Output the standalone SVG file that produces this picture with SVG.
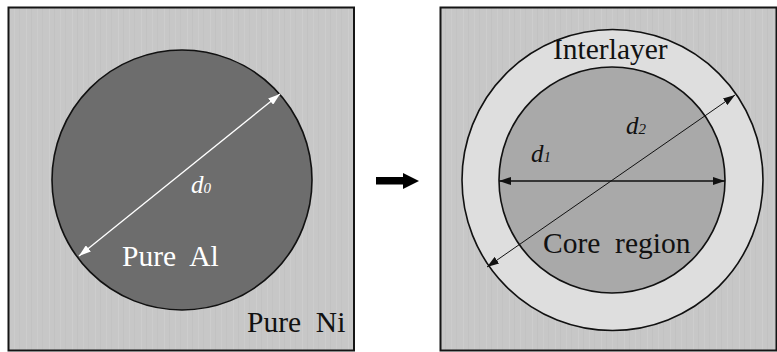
<svg xmlns="http://www.w3.org/2000/svg" width="777" height="352" viewBox="0 0 777 352">
  <style>
    .label { font-size: 29.5px; white-space: pre; }
    .dim { font-style: italic; font-size: 25px; }
    .sub { font-size: 15px; }
    .panel { fill: url(#brushed); stroke: #151515; stroke-width: 2; }
    .edge { stroke: #111; stroke-width: 1.6; }
  </style>
  <defs>
    <!-- faint vertical brushed-metal streaks -->
    <pattern id="brushed" patternUnits="userSpaceOnUse" width="23" height="10">
      <rect width="23" height="10" fill="#c7c7c7"/>
      <rect x="3" width="1" height="10" fill="#cdcdcd"/>
      <rect x="8" width="1" height="10" fill="#c2c2c2"/>
      <rect x="14" width="1" height="10" fill="#cccccc"/>
      <rect x="19" width="1" height="10" fill="#c3c3c3"/>
    </pattern>
    <marker id="wHead" viewBox="0 0 12 8" refX="12" refY="4" markerWidth="12" markerHeight="8" markerUnits="userSpaceOnUse" orient="auto-start-reverse">
      <path d="M0,0 L12,4 L0,8 Z" fill="#ffffff"/>
    </marker>
    <marker id="kHead" viewBox="0 0 12 8" refX="12" refY="4" markerWidth="12" markerHeight="8" markerUnits="userSpaceOnUse" orient="auto-start-reverse">
      <path d="M0,0 L12,4 L0,8 Z" fill="#111111"/>
    </marker>
  </defs>

  <g font-family="'Liberation Serif', 'DejaVu Serif', serif">
    <!-- initial state: Al particle in Ni matrix -->
    <g id="initial">
      <rect class="panel" x="8.5" y="7.5" width="345.5" height="343"/>
      <circle class="edge" cx="182" cy="180" r="130" fill="#6d6d6d"/>
      <text class="label" x="122" y="266" fill="#ffffff">Pure  Al</text>
      <text class="label" x="247" y="332" fill="#111111">Pure  Ni</text>
      <text class="dim" x="191" y="193" fill="#ffffff">d<tspan class="sub">0</tspan></text>
    </g>

    <!-- reacted state: core with interlayer -->
    <g id="reacted">
      <rect class="panel" x="440.5" y="7.5" width="336" height="343"/>
      <circle class="edge" cx="612.5" cy="180" r="150.5" fill="#dedede"/>
      <circle class="edge" cx="612" cy="180" r="113" fill="#a9a9a9"/>
      <text class="label" x="553" y="59" fill="#111111">Interlayer</text>
      <text class="label" x="543" y="253" fill="#111111">Core  region</text>
      <text class="dim" x="531" y="162" fill="#111111">d<tspan class="sub">1</tspan></text>
      <text class="dim" x="626" y="134" fill="#111111">d<tspan class="sub">2</tspan></text>
    </g>
  </g>

  <g id="connectors">
    <line x1="79" y1="256" x2="280" y2="94" stroke="#ffffff" stroke-width="1.3" marker-start="url(#wHead)" marker-end="url(#wHead)"/>
    <line x1="499" y1="181" x2="725" y2="181" stroke="#111" stroke-width="1.3" marker-start="url(#kHead)" marker-end="url(#kHead)"/>
    <line x1="487" y1="267" x2="735" y2="95" stroke="#111" stroke-width="1" marker-start="url(#kHead)" marker-end="url(#kHead)"/>
    <!-- transition arrow -->
    <path d="M376,177 L403,177 L403,173 L419,181 L403,189 L403,184.5 L376,184.5 Z" fill="#000000"/>
  </g>
</svg>
